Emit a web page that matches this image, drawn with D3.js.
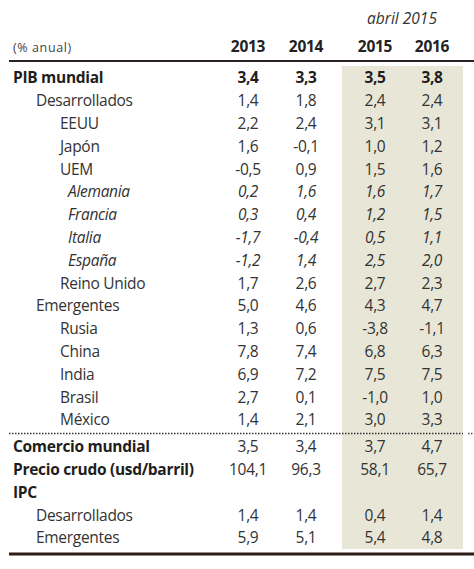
<!DOCTYPE html>
<html><head><meta charset="utf-8">
<script src="https://cdn.jsdelivr.net/npm/d3@7"></script>
<style>html,body{margin:0;padding:0;background:#fff;}</style>
</head><body>
<svg id="chart" width="474" height="569"></svg>
<script>
const years = ["2013", "2014", "2015", "2016"];
const forecastYears = ["2015", "2016"];
const unitLabel = "(% anual)";
const forecastLabel = "abril 2015";
const rowLabels = ["PIB mundial","Desarrollados","EEUU","Japón","UEM","Alemania","Francia","Italia","España","Reino Unido","Emergentes","Rusia","China","India","Brasil","México","Comercio mundial","Precio crudo (usd/barril)","IPC","Desarrollados","Emergentes"];
const rowKinds = ["total","group","country","country","country","member","member","member","member","country","group","country","country","country","country","country","headline","headline","section","group","group"];
const v2013 = [3.4,1.4,2.2,1.6,-0.5,0.2,0.3,-1.7,-1.2,1.7,5.0,1.3,7.8,6.9,2.7,1.4,3.5,104.1,null,1.4,5.9];
const v2014 = [3.3,1.8,2.4,-0.1,0.9,1.6,0.4,-0.4,1.4,2.6,4.6,0.6,7.4,7.2,0.1,2.1,3.4,96.3,null,1.4,5.1];
const v2015 = [3.5,2.4,3.1,1.0,1.5,1.6,1.2,0.5,2.5,2.7,4.3,-3.8,6.8,7.5,-1.0,3.0,3.7,58.1,null,0.4,5.4];
const v2016 = [3.8,2.4,3.1,1.2,1.6,1.7,1.5,1.1,2.0,2.3,4.7,-1.1,6.3,7.5,1.0,3.3,4.7,65.7,null,1.4,4.8];
const seriesValues = [v2013, v2014, v2015, v2016];

const svg = d3.select("#chart");
const FONT = "'Open Sans', Lato, sans-serif";
const loc = d3.formatLocale({decimal: ",", thousands: ".", grouping: [3], currency: ["", ""], minus: "-"});
const fmt = loc.format(".1f");

const x = d3.scaleOrdinal().domain(years).range([248, 306, 375, 432]);
const nMain = 16;
const y = i => 78 + i * 22.8 + (i >= nMain ? 4 : 0);
const indent = {total: 13, headline: 13, section: 13, group: 36, country: 60, member: 68};
const isBoldLabel = k => ["total","headline","section"].includes(k);

// shaded forecast band
svg.append("rect").attr("x", 342).attr("y", 66).attr("width", 121).attr("height", 483).attr("fill", "#e8e6d7");

// rules
svg.append("rect").attr("x", 9).attr("y", 60).attr("width", 465).attr("height", 2).attr("fill", "#2a2320");
svg.append("rect").attr("x", 9).attr("y", 552.5).attr("width", 465).attr("height", 3).attr("fill", "#2b1d14");
svg.append("line").attr("x1", 9).attr("x2", 463).attr("y1", 433.5).attr("y2", 433.5)
  .attr("stroke", "#333").attr("stroke-width", 1.3).attr("stroke-dasharray", "1.5,1.5");
svg.append("line").attr("x1", 468).attr("x2", 474).attr("y1", 433.5).attr("y2", 433.5)
  .attr("stroke", "#555").attr("stroke-width", 1.3).attr("stroke-dasharray", "1.5,1.5");

// header
svg.append("text").attr("x", 402).attr("y", 24).attr("text-anchor", "middle")
  .attr("font-family", FONT).attr("font-size", 15.5).attr("font-style", "italic").attr("fill", "#333").text(forecastLabel);
svg.append("text").attr("x", 13).attr("y", 52).attr("font-family", FONT).attr("font-size", 12.5)
  .attr("fill", "#444").attr("letter-spacing", 0.6).text(unitLabel);
svg.selectAll("text.yr").data(years).join("text").attr("class", "yr")
  .attr("x", d => x(d)).attr("y", 52).attr("text-anchor", "middle")
  .attr("font-family", FONT).attr("font-size", 15.5).attr("font-weight", "bold").attr("letter-spacing", -0.3)
  .attr("fill", "#222").text(d => d);

// rows
const rows = rowLabels.map((label, i) => ({label, kind: rowKinds[i], i}));
const g = svg.append("g").attr("font-family", FONT).attr("font-size", 15.5).attr("letter-spacing", -0.3);
g.selectAll("text.lbl").data(rows).join("text").attr("class", "lbl")
  .attr("x", d => indent[d.kind]).attr("y", d => y(d.i)).attr("dy", "0.35em")
  .attr("font-weight", d => isBoldLabel(d.kind) ? "bold" : "normal")
  .attr("font-style", d => d.kind === "member" ? "italic" : "normal")
  .attr("fill", d => isBoldLabel(d.kind) ? "#1e1e1e" : "#333")
  .text(d => d.label);

years.forEach((yr, k) => {
  const vals = seriesValues[k];
  g.selectAll("text.v" + yr).data(rows.filter(r => vals[r.i] !== null)).join("text").attr("class", "v" + yr)
    .attr("x", x(yr)).attr("y", d => y(d.i)).attr("dy", "0.35em").attr("text-anchor", "middle")
    .attr("font-weight", d => d.kind === "total" ? "bold" : "normal")
    .attr("font-style", d => d.kind === "member" ? "italic" : "normal")
    .attr("fill", d => d.kind === "total" ? "#1e1e1e" : "#333")
    .text(d => fmt(vals[d.i]));
});
</script>
</body></html>
